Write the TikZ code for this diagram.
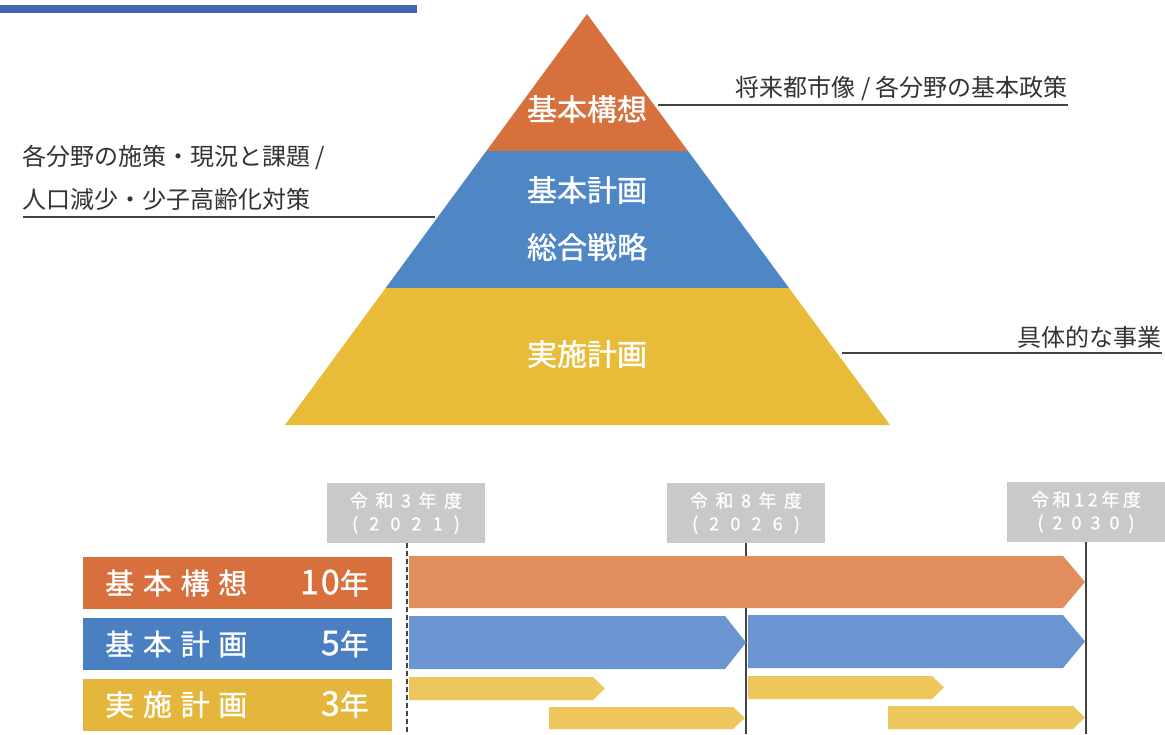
\documentclass[tikz,border=0pt]{standalone}
\usepackage{fontspec}
\setmainfont{Noto Sans CJK JP}
\usetikzlibrary{calc}
\definecolor{pyrOrange}{HTML}{D6703D}
\definecolor{pyrBlue}{HTML}{4E86C6}
\definecolor{pyrYellow}{HTML}{E8BB38}
\definecolor{lblOrange}{HTML}{D8703E}
\definecolor{lblBlue}{HTML}{4A80C2}
\definecolor{lblYellow}{HTML}{E5B63C}
\definecolor{barOrange}{HTML}{E08E5E}
\definecolor{barBlue}{HTML}{6A95D0}
\definecolor{barYellow}{HTML}{EDC75C}
\definecolor{boxGray}{HTML}{C9C9C9}
\definecolor{txtGray}{HTML}{333333}
\definecolor{topBlue}{HTML}{3F67B5}
\definecolor{lineGray}{HTML}{444444}
\newcommand\ptbar[6]{%
  \fill[#1] (#2,#3) -- (#5,#3) -- (#6,{(#3+#4)/2}) -- (#5,#4) -- (#2,#4) -- cycle;}
\newcommand\bigdig[1]{{\fontsize{34}{36}\selectfont\addfontfeature{LetterSpace=6}#1}}
\begin{document}
\begin{tikzpicture}[x=1pt,y=-1pt,
  lbl/.style={font=\fontsize{24}{30}\selectfont, text=txtGray, inner sep=0pt},
  pyr/.style={font=\fontsize{30}{34}\selectfont\addfontfeature{FakeBold=1.2}, text=white, inner sep=0pt},
  leader/.style={draw=lineGray, line width=1.2pt},
  yearbox/.style={fill=boxGray, minimum width=158pt, minimum height=60pt, inner sep=0pt,
    text=white, align=center, font=\fontsize{18}{23}\selectfont\addfontfeature{FakeBold=0.8}},
  catbox/.style={minimum width=309pt, minimum height=52pt, inner sep=0pt},
  cattext/.style={text=white, inner sep=0pt, font=\fontsize{29}{32}\selectfont\addfontfeature{FakeBold=1}},
  vline/.style={draw=lineGray, line width=1.2pt}]
\useasboundingbox (0,0) rectangle (1165,734);
\fill[white] (0,0) rectangle (1165,734);
% top rule
\fill[topBlue] (0,5) rectangle (417,13);
% pyramid
\coordinate (apex) at (587,14);
\coordinate (bl) at (285,425);
\coordinate (br) at (890,425);
\coordinate (l1) at ($(apex)!1/3!(bl)$);
\coordinate (r1) at ($(apex)!1/3!(br)$);
\coordinate (l2) at ($(apex)!2/3!(bl)$);
\coordinate (r2) at ($(apex)!2/3!(br)$);
\fill[pyrOrange] (apex) -- (l1) -- (r1) -- cycle;
\fill[pyrBlue] (l1) -- (l2) -- (r2) -- (r1) -- cycle;
\fill[pyrYellow] (l2) -- (bl) -- (br) -- (r2) -- cycle;
\node[pyr] (p1) at (587,109) {基本構想};
\node[pyr] (p2) at (587,190) {基本計画};
\node[pyr] (p3) at (587,247) {総合戦略};
\node[pyr] (p4) at (587,354) {実施計画};
% side labels
\node[lbl, anchor=east] (t1) at (1068,88) {将来都市像 / 各分野の基本政策};
\coordinate (t1a) at (658,105);
\coordinate (t1b) at (1068,105);
\draw[leader] (t1a) -- (t1b);
\node[lbl, anchor=west] (t2) at (22,157) {各分野の施策・現況と課題 /};
\node[lbl, anchor=west] (t3) at (22,199) {人口減少・少子高齢化対策};
\coordinate (t3a) at (23,217);
\coordinate (t3b) at (435,217);
\draw[leader] (t3a) -- (t3b);
\node[lbl, anchor=east] (t4) at (1162,337) {具体的な事業};
\coordinate (t4a) at (842,353);
\coordinate (t4b) at (1162,353);
\draw[leader] (t4a) -- (t4b);
% year boxes
\node[yearbox] (y1) at (406,513) {\addfontfeature{LetterSpace=42}令和3年度\hspace{-7pt}\\[0pt]\addfontfeature{LetterSpace=62}(2021)\hspace{-11pt}};
\node[yearbox] (y2) at (746,513) {\addfontfeature{LetterSpace=42}令和8年度\hspace{-7pt}\\[0pt]\addfontfeature{LetterSpace=62}(2026)\hspace{-11pt}};
\node[yearbox] (y3) at (1086,512) {\addfontfeature{LetterSpace=20}令和12年度\hspace{-3.6pt}\\[0pt]\addfontfeature{LetterSpace=50}(2030)\hspace{-9pt}};
% vertical guide lines
\coordinate (v1e) at (407,734);
\coordinate (v2e) at (746,734);
\coordinate (v3e) at (1086,734);
\draw[vline, dash pattern=on 5pt off 3pt] (y1.south) ++(1,0) -- (v1e);
\draw[vline] (y2.south) -- (v2e);
\draw[vline] (y3.south) -- (v3e);
% category boxes
\node[catbox, fill=lblOrange] (c1) at (237,583) {};
\node[catbox, fill=lblBlue] (c2) at (237,644) {};
\node[catbox, fill=lblYellow] (c3) at (237,704.5) {};
\node[cattext, anchor=west] (c1a) at (105,583) {\addfontfeature{LetterSpace=30}基本構想};
\node[cattext, anchor=west] (c2a) at (105,644) {\addfontfeature{LetterSpace=30}基本計画};
\node[cattext, anchor=west] (c3a) at (105,704.5) {\addfontfeature{LetterSpace=30}実施計画};
\node[cattext, anchor=east] (c1b) at (369,583) {\bigdig{10}年};
\node[cattext, anchor=east] (c2b) at (369,644) {\bigdig{5}年};
\node[cattext, anchor=east] (c3b) at (369,704.5) {\bigdig{3}年};
% bars
\ptbar{barOrange}{409}{556}{608}{1063}{1085}
\ptbar{barBlue}{409}{616}{669}{725}{746}
\ptbar{barBlue}{748}{615}{668}{1063}{1085}
\ptbar{barYellow}{409}{677}{700}{593}{605}
\ptbar{barYellow}{549}{707}{729}{733}{745}
\ptbar{barYellow}{748}{676}{699}{932}{944}
\ptbar{barYellow}{888}{706}{729}{1073}{1085}
\end{tikzpicture}
\end{document}
